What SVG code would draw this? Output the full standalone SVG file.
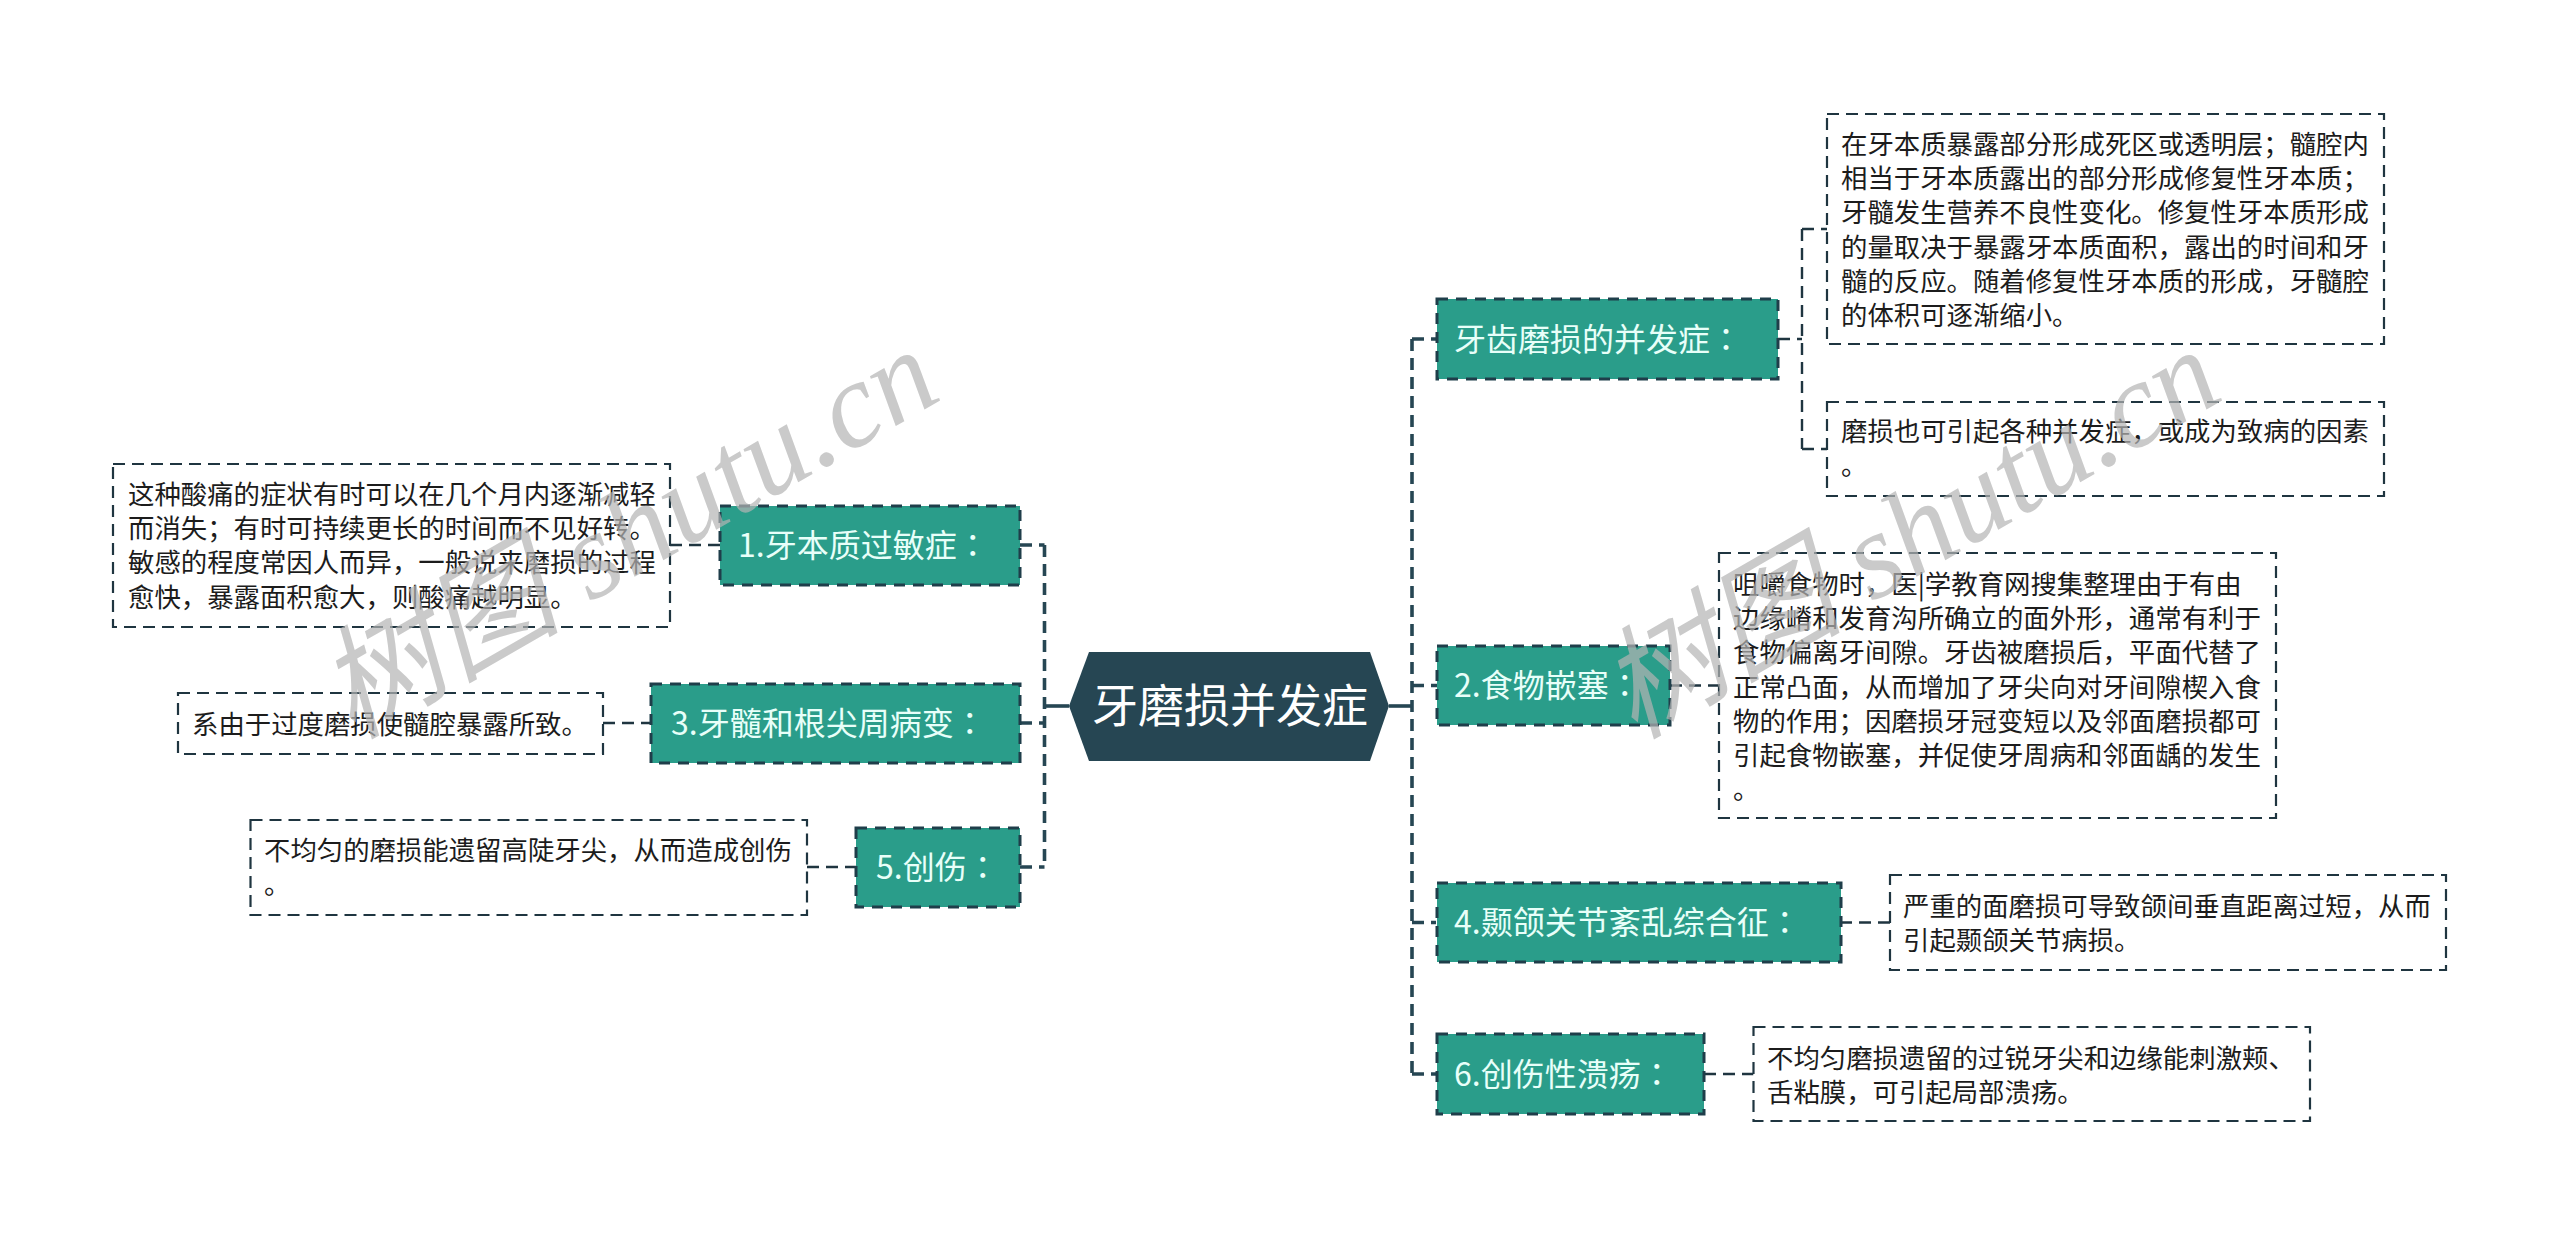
<svg xmlns="http://www.w3.org/2000/svg" width="2560" height="1235" viewBox="0 0 2560 1235">
<style>
text{font-family:"Noto Sans CJK SC","Noto Sans",sans-serif}
.n rect{fill:#2a9d8a;stroke:#1f3e4a;stroke-width:3;stroke-dasharray:11 8}
.n text{fill:#e8fff9;font-size:32px}
.n tspan{font-family:"Noto Sans CJK TC",sans-serif}
.b rect{fill:#fff;stroke:#1f3540;stroke-width:2.2;stroke-dasharray:12 7}
.b text{fill:#1c1c1c;font-size:26.4px}
.c path{fill:none;stroke:#264653;stroke-width:3.6;stroke-dasharray:12 7}
.c path.s{stroke-dasharray:none}
.c path.t{stroke:#1f3540;stroke-width:2.4}
.w{font-family:"Liberation Serif","Noto Sans CJK SC",serif;font-style:italic;font-size:122px;fill:#b4b4b4;opacity:.7}
</style>
<rect width="2560" height="1235" fill="#fff"/>
<g id="connectors" class="c">
<path d="M1412 339V1074"/>
<path d="M1412 339H1437M1412 685.500H1437M1412 922.500H1436M1412 1074H1437"/>
<path class="s" d="M1389 706H1412"/>
<path d="M1044.500 545V867"/>
<path d="M1020 545H1044.500M1020 723H1044.500M1020 867H1044.500"/>
<path class="s" d="M1044.500 706H1069"/>
<path class="t" d="M1802 229V449M1778 339H1802M1802 229H1827M1802 449H1827"/>
<path class="t" d="M1670 685.500H1719M1840 922.500H1890M1704 1074H1753.500M670 545H720M603 723H651M807 867H856"/>
</g>
<g id="root"><polygon points="1069,706 1089,652 1370,652 1389,706 1370,761 1089,761" fill="#264653"/><text x="1092" y="722" fill="#fff" style="font-size:46px">牙磨损并发症</text></g>
<g id="n1" class="n"><rect x="720" y="506" width="300" height="79"/><text x="738" y="557">1.牙本质过敏症<tspan>：</tspan></text></g>
<g id="n3" class="n"><rect x="651" y="684" width="369" height="79"/><text x="671" y="735">3.牙髓和根尖周病变<tspan>：</tspan></text></g>
<g id="n5" class="n"><rect x="856" y="828" width="164" height="79"/><text x="876" y="879">5.创伤<tspan>：</tspan></text></g>
<g id="n0" class="n"><rect x="1437" y="299" width="341" height="80"/><text x="1454" y="351">牙齿磨损的并发症<tspan>：</tspan></text></g>
<g id="n2" class="n"><rect x="1437" y="646" width="233" height="79"/><text x="1454" y="697">2.食物嵌塞<tspan>：</tspan></text></g>
<g id="n4" class="n"><rect x="1437" y="883" width="404" height="79"/><text x="1454" y="934">4.颞颌关节紊乱综合征<tspan>：</tspan></text></g>
<g id="n6" class="n"><rect x="1437" y="1034" width="267" height="80"/><text x="1454" y="1086">6.创伤性溃疡<tspan>：</tspan></text></g>
<g id="b1" class="b"><rect x="113" y="464" width="557" height="163"/>
<text x="128" y="504">这种酸痛的症状有时可以在几个月内逐渐减轻</text><text x="128" y="538">而消失；有时可持续更长的时间而不见好转。</text><text x="128" y="572">敏感的程度常因人而异，一般说来磨损的过程</text><text x="128" y="607">愈快，暴露面积愈大，则酸痛越明显。</text></g>
<g id="b3" class="b"><rect x="178" y="693" width="425" height="61"/><text x="192" y="734">系由于过度磨损使髓腔暴露所致。</text></g>
<g id="b5" class="b"><rect x="250.500" y="820" width="556.500" height="95"/><text x="264" y="860">不均匀的磨损能遗留高陡牙尖，从而造成创伤</text><text x="264" y="894">。</text></g>
<g id="ba" class="b"><rect x="1827" y="114" width="557" height="230"/>
<text x="1841" y="154">在牙本质暴露部分形成死区或透明层；髓腔内</text><text x="1841" y="188">相当于牙本质露出的部分形成修复性牙本质；</text><text x="1841" y="222">牙髓发生营养不良性变化。修复性牙本质形成</text><text x="1841" y="257">的量取决于暴露牙本质面积，露出的时间和牙</text><text x="1841" y="291">髓的反应。随着修复性牙本质的形成，牙髓腔</text><text x="1841" y="325">的体积可逐渐缩小。</text></g>
<g id="bb" class="b"><rect x="1827" y="402" width="557" height="94"/><text x="1841" y="441">磨损也可引起各种并发症，或成为致病的因素</text><text x="1841" y="475">。</text></g>
<g id="b2" class="b"><rect x="1719" y="553" width="557" height="265"/>
<text x="1733" y="594">咀嚼食物时，医|学教育网搜集整理由于有由</text><text x="1733" y="628">边缘嵴和发育沟所确立的面外形，通常有利于</text><text x="1733" y="662">食物偏离牙间隙。牙齿被磨损后，平面代替了</text><text x="1733" y="697">正常凸面，从而增加了牙尖向对牙间隙楔入食</text><text x="1733" y="731">物的作用；因磨损牙冠变短以及邻面磨损都可</text><text x="1733" y="765">引起食物嵌塞，并促使牙周病和邻面龋的发生</text><text x="1733" y="799">。</text></g>
<g id="b4" class="b"><rect x="1890" y="875" width="556" height="95"/><text x="1903" y="916">严重的面磨损可导致颌间垂直距离过短，从而</text><text x="1903" y="950">引起颞颌关节病损。</text></g>
<g id="b6" class="b"><rect x="1753.500" y="1027" width="556.500" height="94"/><text x="1767" y="1068">不均匀磨损遗留的过锐牙尖和边缘能刺激颊、</text><text x="1767" y="1102">舌粘膜，可引起局部溃疡。</text></g>
<text class="w" transform="translate(352 740) rotate(-30)">树图 shutu.cn</text>
<text class="w" transform="translate(1634 740) rotate(-30)">树图 shutu.cn</text>
</svg>
